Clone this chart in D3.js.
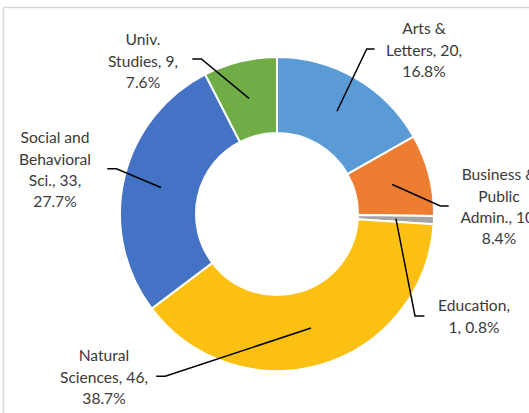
<!DOCTYPE html>
<html>
<head>
<meta charset="utf-8">
<script src="https://cdn.jsdelivr.net/npm/d3@7"></script>
<style>
  html, body { margin: 0; padding: 0; background: #fff; overflow: hidden; }
  text { font-family: Lato, "Open Sans", sans-serif; fill: #3a3a3a; }
</style>
</head>
<body>
<div id="chart"></div>
<script>
// donnees du graphique
const categories = ["Arts & Letters", "Business & Public Admin.", "Education", "Natural Sciences", "Social and Behavioral Sci.", "Univ. Studies"];
const counts = [20, 10, 1, 46, 33, 9];
const colors = ["#5B9BD5", "#ED7D31", "#A5A5A5", "#FBC012", "#4472C4", "#70AD47"];

// nb de mots par ligne pour couper les etiquettes
const wordsPerLine = [[2, 2, 1], [2, 1, 2, 1], [1, 2], [1, 2, 1], [2, 1, 2, 1], [1, 2, 1]];
// position des etiquettes (centre x, y de la 1ere ligne) et coude du trait
const labelPos = [
    { x: 424, y: 29, elbow: [366.7, 49], end: [374.5, 49] },
    { x: 499, y: 175, elbow: [440.3, 206], end: [448.7, 206] },
    { x: 474, y: 306, elbow: [415, 316], end: [424.4, 316] },
    { x: 104, y: 356, elbow: [165.3, 376.2], end: [156.2, 376.2] },
    { x: 55, y: 138, elbow: [116.4, 168.7], end: [107.3, 168.7] },
    { x: 143, y: 40, elbow: [201.4, 59], end: [192.3, 59] }
];

const width = 529;
const height = 413;
const cx = 277, cy = 214;
const outerR = 157, innerR = 81;
const lineH = 21.2;

const svg = d3.select("#chart")
    .append("svg")
    .attr("width", width)
    .attr("height", height);

// cadre gris
svg.append("rect")
    .attr("x", 3.5).attr("y", 7.5)
    .attr("width", width + 10).attr("height", height + 10)
    .attr("fill", "none")
    .attr("stroke", "#D9D9D9")
    .attr("stroke-width", 1.5);

const total = d3.sum(counts);
const pct = d3.format(".1%");
const data = categories.map((c, i) => ({ name: c, value: counts[i], color: colors[i], i }));

const pie = d3.pie().value(d => d.value).sort(null);
const arc = d3.arc().innerRadius(innerR).outerRadius(outerR);
const mid = d3.arc().innerRadius((innerR + outerR) / 2).outerRadius((innerR + outerR) / 2);

const g = svg.append("g").attr("transform", `translate(${cx},${cy})`);

g.selectAll("path.slice")
    .data(pie(data))
    .join("path")
    .attr("class", "slice")
    .attr("d", arc)
    .attr("fill", d => d.data.color)
    .attr("stroke", "#fff")
    .attr("stroke-width", 2);

// traits de rappel
svg.selectAll("polyline.leader")
    .data(pie(data))
    .join("polyline")
    .attr("class", "leader")
    .attr("points", d => {
        const c = mid.centroid(d);
        const p = labelPos[d.data.i];
        return [[c[0] + cx, c[1] + cy], p.elbow, p.end].map(q => q.join(",")).join(" ");
    })
    .attr("fill", "none")
    .attr("stroke", "#000")
    .attr("stroke-width", 1.5);

// etiquettes
const labels = svg.selectAll("text.lbl")
    .data(data)
    .join("text")
    .attr("class", "lbl")
    .attr("text-anchor", "middle")
    .attr("font-size", "15.6px");

labels.each(function (d) {
    const words = `${d.name}, ${d.value}, ${pct(d.value / total)}`.split(" ");
    const p = labelPos[d.i];
    let k = 0;
    wordsPerLine[d.i].forEach((n, j) => {
        d3.select(this).append("tspan")
            .attr("x", p.x)
            .attr("y", p.y + j * lineH)
            .attr("dy", "0.35em")
            .text(words.slice(k, k + n).join(" "));
        k += n;
    });
});
</script>
</body>
</html>
